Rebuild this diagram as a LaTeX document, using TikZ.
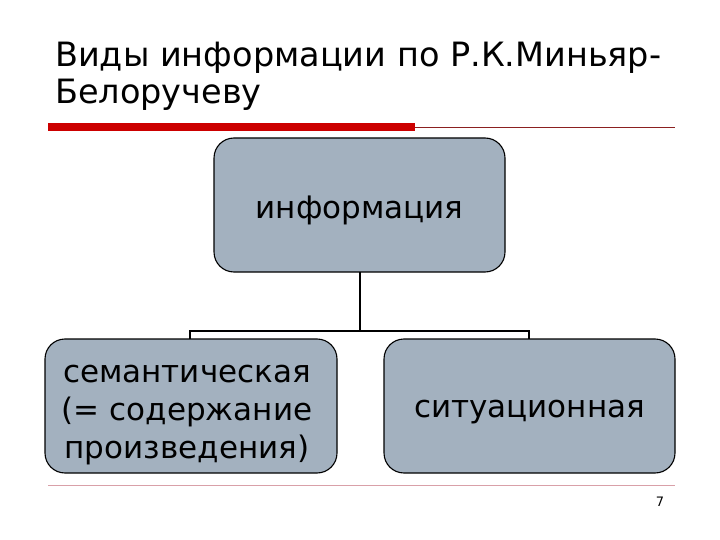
\documentclass[tikz,border=0pt]{standalone}
\usepackage{fontspec}
\setmainfont{DejaVu Sans}
\definecolor{boxfill}{HTML}{A3B1BF}
\definecolor{barred}{HTML}{CC0000}
\definecolor{thinred}{HTML}{8B2020}
\definecolor{footline}{HTML}{D9A0A8}
\begin{document}
\begin{tikzpicture}[x=1pt,y=-1pt,
  box/.style={draw=black,line width=1.1pt,fill=boxfill,rounded corners=20pt},
  boxtext/.style={font=\fontsize{31}{38}\selectfont,align=center,inner sep=0pt},
  titletext/.style={font=\fontsize{33.5}{36}\selectfont,anchor=base west,inner sep=0pt},
  conn/.style={draw=black,line width=1.8pt}]
\useasboundingbox (0,0) rectangle (720,540);
\node[titletext] (t1) at (55,67) {Виды информации по Р.К.Миньяр-};
\node[titletext] (t2) at (55,104) {Белоручеву};
\fill[barred] (48,123) rectangle (415,131);
\draw[thinred,line width=0.7pt] (415,127) -- (675,127);
\draw[footline,line width=1pt] (48,485) -- (675,485);
\node[font=\fontsize{13}{15}\selectfont,anchor=base] (pg) at (660,506) {7};
\draw[box] (214,138) rectangle (505,272);
\node[boxtext] (top) at (359.5,210) {информация};
\draw[box] (45,339) rectangle (337,473);
\node[boxtext] (left) at (187,415) {семантическая\\(= содержание\\произведения)};
\draw[box] (384,339) rectangle (675,473);
\node[boxtext] (right) at (529.5,412) {ситуационная};
\coordinate (a) at (360,272);
\coordinate (b) at (360,331);
\coordinate (l) at (190,331);
\coordinate (r) at (529,331);
\coordinate (lb) at (190,339);
\coordinate (rb) at (529,339);
\draw[conn] (a) -- (b);
\draw[conn] (lb) -- (l) -- (r) -- (rb);
\end{tikzpicture}
\end{document}
